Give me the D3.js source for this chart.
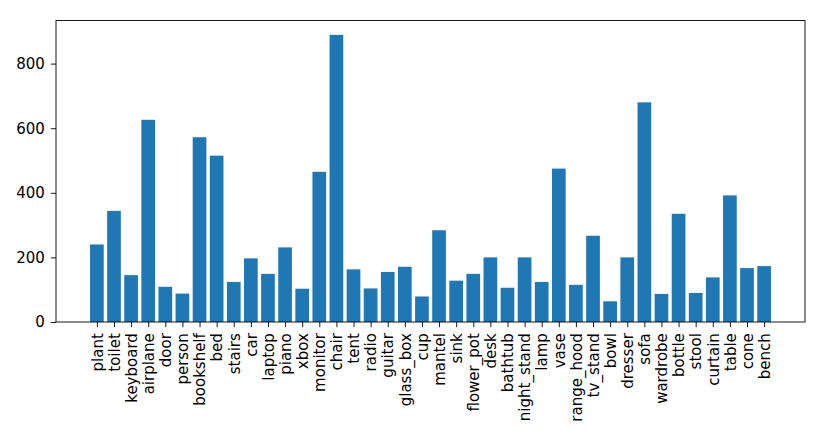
<!DOCTYPE html>
<html>
<head>
<meta charset="utf-8">
<script src="https://cdn.jsdelivr.net/npm/d3@7"></script>
<style>
  body { margin: 0; background: #fff; }
  svg { display: block; font-family: 'DejaVu Sans', sans-serif; }
</style>
</head>
<body>
<svg id="chart" width="825" height="440"></svg>
<script>
// Class names (x tick labels)
const categories = [
    "plant", "toilet", "keyboard", "airplane", "door", "person", "bookshelf", "bed",
    "stairs", "car", "laptop", "piano", "xbox", "monitor", "chair", "tent", "radio",
    "guitar", "glass_box", "cup", "mantel", "sink", "flower_pot", "desk", "bathtub",
    "night_stand", "lamp", "vase", "range_hood", "tv_stand", "bowl", "dresser", "sofa",
    "wardrobe", "bottle", "stool", "curtain", "table", "cone", "bench"
];

// Sample count per class
const counts = [
    240, 344, 145, 626, 109, 88, 572, 515,
    124, 197, 149, 231, 103, 465, 889, 163, 104,
    155, 171, 79, 284, 128, 149, 200, 106,
    200, 124, 475, 115, 267, 64, 200, 680,
    87, 335, 90, 138, 392, 167, 173
];

const yTicks = [0, 200, 400, 600, 800];

const svg = d3.select("#chart");
const margin = { top: 20.5, right: 20, bottom: 118, left: 56 };
const width = 825 - margin.left - margin.right;
const height = 440 - margin.top - margin.bottom;

const g = svg.append("g")
    .attr("transform", `translate(${margin.left},${margin.top})`);

// matplotlib-style padding: 5% of the data span on each side
const barW = 0.8;
const n = categories.length;
const span = (n - 1 + barW);
const x = d3.scaleLinear()
    .domain([-barW / 2 - 0.05 * span, n - 1 + barW / 2 + 0.05 * span])
    .range([0, width]);

const yMax = d3.max(counts) * 1.05;
const y = d3.scaleLinear()
    .domain([0, yMax])
    .range([height, 0]);

// bars
g.selectAll("rect.bar")
    .data(counts)
    .enter()
    .append("rect")
    .attr("class", "bar")
    .attr("x", (d, i) => x(i - barW / 2))
    .attr("width", (d, i) => x(i + barW / 2) - x(i - barW / 2))
    .attr("y", d => y(d))
    .attr("height", d => y(0) - y(d))
    .attr("fill", "#1f77b4");

const tickLen = 5.2;
const tickPad = 6;

// y axis
const yAxis = g.append("g")
    .call(d3.axisLeft(y).tickValues(yTicks).tickSize(tickLen).tickPadding(tickPad));

// x axis
const xAxis = g.append("g")
    .attr("transform", `translate(0,${height})`)
    .call(d3.axisBottom(x).tickValues(d3.range(n)).tickSize(tickLen).tickPadding(tickPad)
        .tickFormat(i => categories[i]));

xAxis.selectAll("text")
    .attr("transform", "rotate(-90)")
    .attr("text-anchor", "end")
    .attr("x", -(tickLen + tickPad))
    .attr("y", 0)
    .attr("dy", "0.35em");

[xAxis, yAxis].forEach(ax => {
    ax.attr("font-family", null).attr("font-size", null);
    ax.select(".domain").remove();
    ax.selectAll("text")
        .attr("fill", "#000")
        .attr("font-family", "'DejaVu Sans', sans-serif")
        .attr("font-size", 15);
    ax.selectAll("line").attr("stroke", "#000").attr("stroke-width", 0.9);
});

// frame
g.append("rect")
    .attr("x", 0)
    .attr("y", 0)
    .attr("width", width)
    .attr("height", height)
    .attr("fill", "none")
    .attr("stroke", "#000")
    .attr("stroke-width", 0.9);
</script>
</body>
</html>
